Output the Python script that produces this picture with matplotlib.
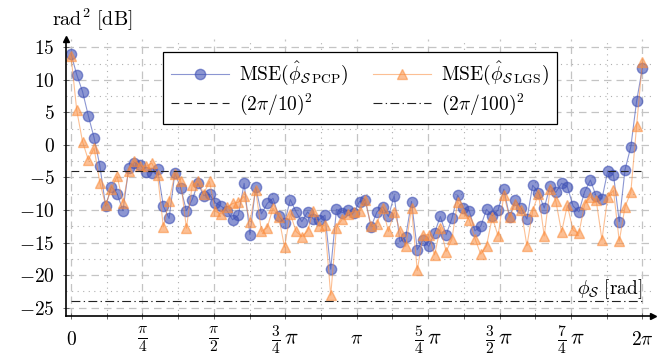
import numpy as np
import matplotlib
matplotlib.use('Agg')
import matplotlib.pyplot as plt
from matplotlib.ticker import MultipleLocator, FixedLocator

# Шрифт в стиле LaTeX (Computer Modern)
plt.rcParams['mathtext.fontset'] = 'cm'
plt.rcParams['font.family'] = 'serif'
plt.rcParams['font.serif'] = ['cmr10', 'DejaVu Serif']
plt.rcParams['axes.unicode_minus'] = False

# Данные: 100 точек phi_S на отрезке [0, 2pi]
phi = np.linspace(0, 2 * np.pi, 100)

mse_pcp = [14.0, 10.8, 8.2, 4.5, 1.1, -3.2, -9.4, -6.4, -7.5, -10.1,
           -3.6, -2.7, -3.1, -4.1, -4.3, -3.7, -9.4, -11.3, -4.3, -6.6,
           -10.1, -8.4, -5.9, -7.8, -7.6, -8.9, -9.4, -10.1, -11.5, -10.8,
           -5.9, -13.8, -6.5, -10.6, -9.0, -8.2, -11.0, -12.0, -8.4, -10.3,
           -11.8, -10.3, -11.4, -11.5, -10.8, -19.1, -9.9, -10.4, -10.0, -10.4,
           -8.7, -8.5, -12.6, -10.3, -9.5, -11.0, -7.8, -14.9, -14.1, -8.7,
           -16.1, -14.6, -15.6, -13.5, -11.0, -13.8, -11.3, -7.7, -9.7, -10.1,
           -13.2, -12.5, -9.9, -10.9, -10.0, -6.8, -11.1, -8.5, -9.7, -11.4,
           -6.2, -7.4, -9.7, -6.3, -7.3, -5.9, -6.4, -9.4, -10.3, -7.2,
           -5.4, -7.9, -8.3, -4.0, -4.6, -11.8, -3.8, -0.3, 6.7, 11.8]

mse_lgs = [13.7, 5.3, 0.5, -2.3, -0.5, -5.8, -9.2, -6.8, -4.8, -8.9,
           -4.0, -2.4, -3.2, -3.3, -2.8, -4.6, -12.6, -8.6, -4.4, -5.6,
           -12.8, -6.2, -5.6, -7.5, -5.6, -10.2, -10.6, -9.6, -9.0, -8.8,
           -7.9, -11.8, -6.9, -13.3, -12.7, -9.7, -11.1, -15.7, -10.6, -13.3,
           -14.1, -13.2, -10.1, -12.5, -12.3, -23.1, -12.7, -11.4, -10.6, -10.3,
           -10.2, -8.5, -12.5, -12.1, -9.7, -13.3, -10.3, -13.2, -15.6, -9.7,
           -19.3, -13.8, -13.8, -16.9, -12.7, -16.4, -14.5, -8.7, -10.5, -11.5,
           -14.4, -16.8, -15.5, -11.1, -14.0, -7.7, -11.1, -9.1, -10.0, -15.5,
           -10.1, -7.5, -14.0, -6.8, -8.6, -13.4, -9.3, -13.1, -13.6, -9.1,
           -8.0, -8.5, -14.6, -8.0, -7.0, -14.8, -9.5, -7.3, 2.9, 12.7]

# Пороговые уровни в дБ
level_10 = 20 * np.log10(2 * np.pi / 10)
level_100 = 20 * np.log10(2 * np.pi / 100)

x_ticks = [k * np.pi / 4 for k in range(9)]
x_labels = ['$0$', r'$\frac{\pi}{4}$', r'$\frac{\pi}{2}$', r'$\frac{3}{4}\,\pi$',
            r'$\pi$', r'$\frac{5}{4}\,\pi$', r'$\frac{3}{2}\,\pi$',
            r'$\frac{7}{4}\,\pi$', r'$2\pi$']
y_ticks = [-25, -20, -15, -10, -5, 0, 5, 10, 15]

fig = plt.figure(figsize=(6.68, 3.58), dpi=100)
ax = fig.add_axes([0.0988, 0.1173, 0.8787, 0.774])

# Сетка: основная штриховая, вспомогательная пунктирная
ax.set_axisbelow(True)
ax.grid(which='major', color='#c4c4c4', lw=0.9, linestyle=(0, (6, 4)))
ax.grid(which='minor', color='#b0b0b0', lw=0.8, linestyle=(0, (1, 4)))

l_pcp, = ax.plot(phi, mse_pcp, '-o', color='#3f51b5', alpha=0.6, lw=0.8, ms=7.4,
                 label=r'$\mathrm{MSE}(\hat{\phi}_{\mathcal{S}\,\mathrm{PCP}})$')
l_lgs, = ax.plot(phi, mse_lgs, '-^', color='#fb8c3c', alpha=0.55, lw=0.8, ms=7.4,
                 label=r'$\mathrm{MSE}(\hat{\phi}_{\mathcal{S}\,\mathrm{LGS}})$')
l_10, = ax.plot([0, 2 * np.pi], [level_10, level_10], color='#222222', lw=0.8,
                linestyle=(0, (7, 4.5)), label=r'$(2\pi/10)^2$')
l_100, = ax.plot([0, 2 * np.pi], [level_100, level_100], color='#222222', lw=0.8,
                 linestyle=(0, (8, 3, 1.2, 3)), label=r'$(2\pi/100)^2$')

ax.set_xlim(-0.055, 6.40)
ax.set_ylim(-26.3, 16.3)
ax.xaxis.set_major_locator(FixedLocator(x_ticks))
ax.xaxis.set_minor_locator(MultipleLocator(np.pi / 8))
ax.set_xticklabels(x_labels)
ax.yaxis.set_major_locator(FixedLocator(y_ticks))
ax.yaxis.set_minor_locator(MultipleLocator(2.5))
ax.set_yticklabels(['$%d$' % v if v >= 0 else r'$-%d$' % -v for v in y_ticks])
ax.tick_params(which='both', direction='inout', length=4, width=0.6,
               color='#555555', labelsize=14)
ax.tick_params(axis='y', which='minor', length=0)
ax.tick_params(axis='x', pad=15)
ax.tick_params(axis='y', pad=6)
for lbl in ax.get_xticklabels():
    lbl.set_verticalalignment('center')
    if 'frac' in lbl.get_text():
        lbl.set_fontsize(16)

# Оси со стрелками
for side in ['top', 'right']:
    ax.spines[side].set_visible(False)
for side in ['left', 'bottom']:
    ax.spines[side].set_linewidth(1.2)
ax.plot(1, 0, '>k', ms=5, transform=ax.transAxes, clip_on=False)
ax.plot(0, 1, '^k', ms=5, transform=ax.transAxes, clip_on=False)

# Подписи осей
fig.text(0.078, 0.945, r'$\mathrm{rad}^2\ \mathrm{[dB]}$', fontsize=14.5,
         ha='left', va='center')
ax.text(2 * np.pi, -22.2, r'$\phi_{\mathcal{S}}\ \mathrm{[rad]}$', fontsize=14,
        ha='right', va='center')

# Легенда: порядок по строкам (PCP, LGS / 2pi/10, 2pi/100)
leg = ax.legend([l_pcp, l_10, l_lgs, l_100],
                [l_pcp.get_label(), l_10.get_label(), l_lgs.get_label(), l_100.get_label()],
                loc='upper left', bbox_to_anchor=(0.165, 0.679, 0.671, 0.274),
                mode='expand', ncol=2, fontsize=14, frameon=True,
                fancybox=False, edgecolor='black', framealpha=1,
                handlelength=3, borderaxespad=0, labelspacing=0.2,
                columnspacing=1.0, handletextpad=0.5)
leg.get_frame().set_linewidth(0.9)

fig.savefig('out.png', dpi=100)
